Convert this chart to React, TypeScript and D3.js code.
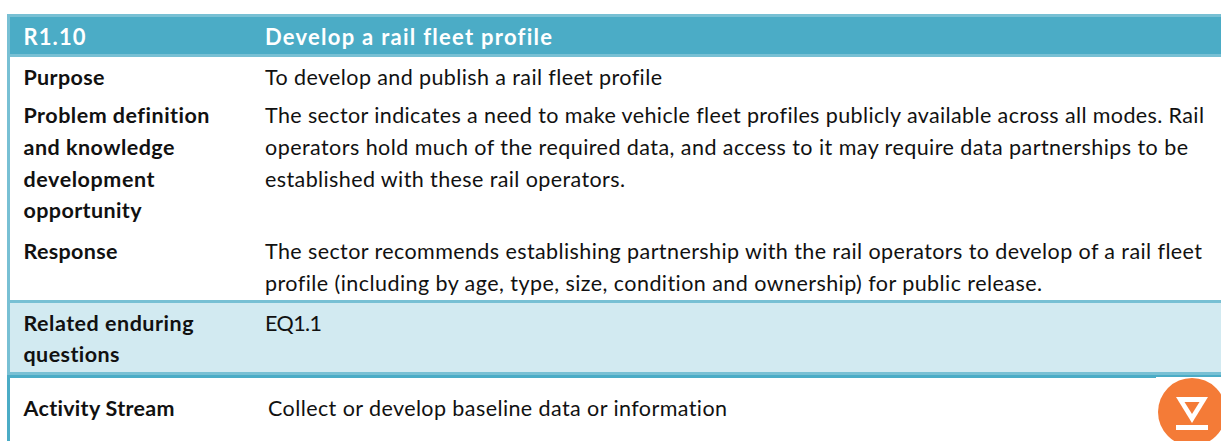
import * as d3 from "d3"

const headerCode = "R1.10"
const headerTitle = "Develop a rail fleet profile"
const labels = ["Purpose", "Problem definition", "and knowledge", "development", "opportunity", "Response"]
const labelBaselines = [85, 123, 155, 187, 218, 259]
const labelWidths = [81, 186, 151, 131, 118, 94]
const bodyText = [
  "To develop and publish a rail fleet profile",
  "The sector indicates a need to make vehicle fleet profiles publicly available across all modes. Rail",
  "operators hold much of the required data, and access to it may require data partnerships to be",
  "established with these rail operators.",
  "The sector recommends establishing partnership with the rail operators to develop of a rail fleet",
  "profile (including by age, type, size, condition and ownership) for public release.",
]
const bodyBaselines = [85, 123, 155, 187, 259, 291]
const bodyWidths = [397, 939, 923, 360, 937, 777]
const relatedLabel = ["Related enduring", "questions"]
const relatedBaselines = [331, 362]
const relatedWidths = [170, 96]
const relatedValue = "EQ1.1"
const streamLabel = "Activity Stream"
const streamValue = "Collect or develop baseline data or information"

const width = 1221
const height = 441
const font = "Lato, Carlito, Calibri, sans-serif"
const fontSize = 21.5

const DARK = "#4bacc6"
const LIGHT = "#78c0d4"
const PALE = "#d2eaf1"
const ORANGE = "#f47b37"

export default function App() {
  const x = d3.scaleOrdinal<string, number>().domain(["label", "body"]).range([23.5, 265])

  return (
    <svg
      width={width}
      height={height}
      style={{ position: "absolute", left: 0, top: 0, background: "#fff", fontVariantLigatures: "none" }}
      fontFamily={font}
      fontSize={fontSize}
      fill="#111"
    >
      {/* header */}
      <rect x={7} y={14} width={width - 7} height={43} fill={LIGHT} />
      <rect x={10} y={17} width={width - 10} height={37} fill={DARK} />
      <text x={x("label")} y={45} fill="#fff" fontWeight={700} fontSize={22} textLength={62}>{headerCode}</text>
      <text x={x("body")} y={45} fill="#fff" fontWeight={700} fontSize={22} textLength={287}>{headerTitle}</text>

      {/* left border */}
      <rect x={7} y={57} width={3} height={243} fill={LIGHT} />
      <rect x={7} y={375} width={3} height={66} fill={DARK} />

      {labels.map((d, i) => (
        <text key={d} x={x("label")} y={labelBaselines[i]} fontWeight={700} textLength={labelWidths[i]}>{d}</text>
      ))}
      {bodyText.map((d, i) => (
        <text key={d} x={x("body")} y={bodyBaselines[i]} textLength={bodyWidths[i]}>{d}</text>
      ))}

      {/* related questions band */}
      <rect x={7} y={300} width={width - 7} height={75} fill={LIGHT} />
      <rect x={10} y={303} width={width - 10} height={69} fill={PALE} />
      <rect x={7} y={375} width={width - 7} height={3} fill={DARK} />
      {relatedLabel.map((d, i) => (
        <text key={d} x={x("label")} y={relatedBaselines[i]} fontWeight={700} textLength={relatedWidths[i]}>{d}</text>
      ))}
      <text x={x("body")} y={331} textLength={57}>{relatedValue}</text>

      {/* activity stream */}
      <text x={x("label")} y={416} fontWeight={700} textLength={151}>{streamLabel}</text>
      <text x={268} y={416} textLength={459}>{streamValue}</text>

      {/* badge */}
      <rect x={1156} y={377} width={65} height={64} fill="#fff" />
      <circle cx={1192} cy={412} r={34} fill={ORANGE} />
      <path d={d3.line()([[1176, 397], [1208, 397], [1192, 423]]) + "Z"} fill="#fff" />
      <path d={d3.line()([[1184.5, 402], [1199.5, 402], [1192, 414]]) + "Z"} fill={ORANGE} />
      <rect x={1176} y={425} width={32} height={5} fill="#fff" />
    </svg>
  )
}
